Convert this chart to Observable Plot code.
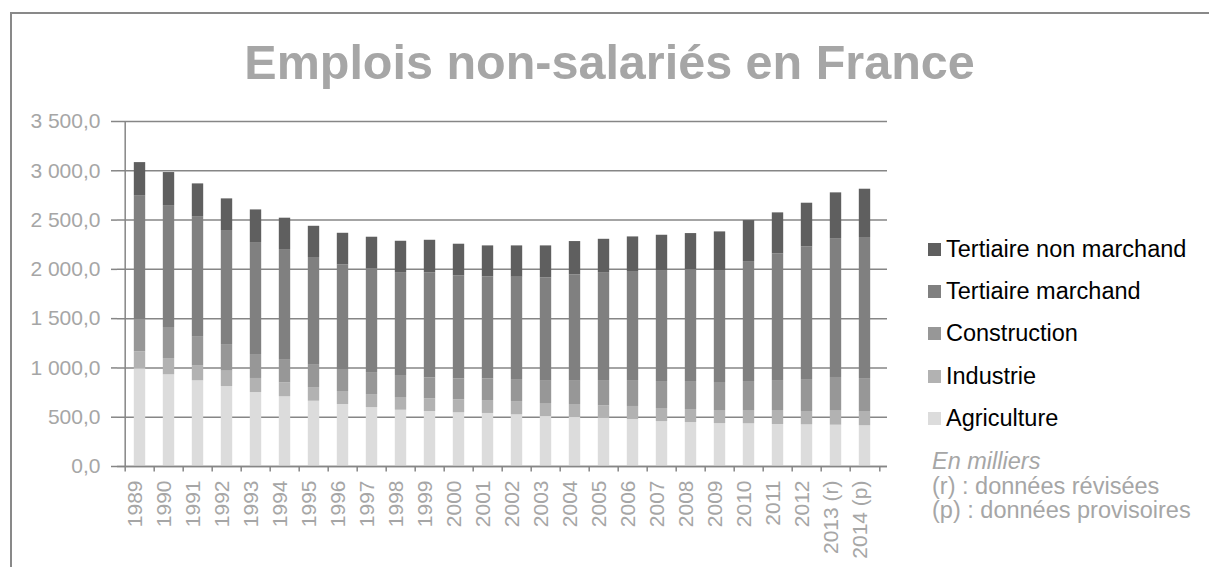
<!DOCTYPE html>
<html>
<head>
<meta charset="utf-8">
<script src="https://cdn.jsdelivr.net/npm/d3@7"></script>
<script src="https://cdn.jsdelivr.net/npm/@observablehq/plot@0.6"></script>
<style>
  html, body { margin: 0; padding: 0; background: #fff; overflow: hidden; }
  #wrap { width: 1209px; height: 567px; position: relative; overflow: hidden; font-family: "Liberation Sans", Arial, sans-serif; }
  #frame { position: absolute; left: 10px; top: 12px; width: 1400px; height: 800px; border-top: 2px solid #898989; border-left: 2px solid #898989; }
  #title { position: absolute; left: 10px; width: 1199px; top: 38px; text-align: center; font-size: 48.5px; font-weight: bold; color: #a6a6a6; line-height: 48px; white-space: nowrap; }
  #chart { position: absolute; left: 0; top: 100px; }
  #legend { position: absolute; left: 928px; top: 228px; }
  .row { position: relative; height: 42.4px; display: flex; align-items: center; }
  .sw { width: 13px; height: 13px; margin-right: 5px; }
  .lab { font-size: 23.5px; color: #000; white-space: nowrap; }
  #notes { position: absolute; left: 932px; top: 449px; font-size: 23.5px; color: #a6a6a6; line-height: 24.5px; white-space: nowrap; }
</style>
</head>
<body>
<div id="wrap">
<div id="frame"></div>
<div id="title">Emplois non-salariés en France</div>
<div id="chart"></div>
<div id="legend"></div>
<div id="notes"><i>En milliers</i><br>(r) : données révisées<br>(p) : données provisoires</div>
</div>
<script>
const years = ["1989","1990","1991","1992","1993","1994","1995","1996","1997","1998","1999","2000","2001","2002","2003","2004","2005","2006","2007","2008","2009","2010","2011","2012","2013 (r)","2014 (p)"];
const sectors = ["Agriculture","Industrie","Construction","Tertiaire marchand","Tertiaire non marchand"];
const colors = ["#dcdcdc","#b2b2b2","#979797","#808080","#5f5f5f"];
const agriculture = [991,930,869,811,750,707,662,629,598,571,558,545,538,524,507,497,487,477,456,446,436,433,426,423,419,413];
const industrie = [172,165,155,156,143,142,139,132,132,129,128,131,131,135,132,132,128,132,132,132,132,135,142,135,149,145];
const construction = [328,315,294,270,243,236,233,223,223,223,213,213,220,223,226,236,257,263,274,284,284,294,304,324,335,334];
const tertiaireMarchand = [1257,1237,1217,1157,1136,1116,1086,1061,1052,1044,1065,1045,1035,1038,1048,1079,1095,1106,1126,1136,1136,1217,1285,1346,1409,1431];
const tertiaireNonMarchand = [335,335,332,321,331,318,317,321,321,318,331,321,314,318,325,338,338,351,358,365,392,416,416,443,464,490];
const yTicks = [0,500,1000,1500,2000,2500,3000,3500];

const series = [agriculture, industrie, construction, tertiaireMarchand, tertiaireNonMarchand];
const data = [];
years.forEach((y, i) => sectors.forEach((s, k) => data.push({year: y, sector: s, value: series[k][i]})));

const W = 900, ML = 117, MR = 13;
const step = (W - ML - MR) / years.length;
const fmt = d3.formatLocale({decimal: ",", thousands: " ", grouping: [3], currency: ["", ""]}).format(",.1f");
const gray = "#868686", txt = "#a6a6a6";

const plot = Plot.plot({
  width: W, height: 460,
  marginLeft: ML, marginRight: MR, marginTop: 21, marginBottom: 94,
  style: {fontFamily: '"Liberation Sans", Arial, sans-serif', background: "transparent"},
  x: {domain: years, padding: 0, label: null},
  y: {domain: [0, 3500], label: null},
  color: {domain: sectors, range: colors},
  marks: [
    Plot.gridY(yTicks, {stroke: gray, strokeOpacity: 1, strokeWidth: 1.5}),
    Plot.barY(data, Plot.stackY({x: "year", y: "value", fill: "sector", order: sectors, insetLeft: (step - 12) / 2, insetRight: (step - 12) / 2})),
    Plot.ruleY([0], {stroke: gray, strokeWidth: 1.5}),
    Plot.ruleX([years[0]], {y1: 0, y2: 3500, dx: -step / 2, stroke: gray, strokeWidth: 1.5}),
    Plot.ruleX(years, {y1: 0, y2: -55, dx: -step / 2, stroke: gray, strokeWidth: 1.5}),
    Plot.ruleX([years[years.length - 1]], {y1: 0, y2: -55, dx: step / 2, stroke: gray, strokeWidth: 1.5}),
    Plot.axisY(yTicks, {tickSize: 6, tickPadding: 11, tickFormat: fmt, fontSize: 21, stroke: gray, fill: txt, strokeWidth: 1.5, label: null}),
    Plot.axisX({tickSize: 0, tickPadding: 14, tickRotate: -90, fontSize: 21, fill: txt, label: null, dx: -5})
  ]
});
document.getElementById("chart").appendChild(plot);

const legend = document.getElementById("legend");
[...sectors].reverse().forEach(s => {
  const row = document.createElement("div");
  row.className = "row";
  const sw = document.createElement("div");
  sw.className = "sw";
  sw.style.background = colors[sectors.indexOf(s)];
  const lab = document.createElement("span");
  lab.className = "lab";
  lab.textContent = s;
  row.appendChild(sw); row.appendChild(lab);
  legend.appendChild(row);
});
</script>
</body>
</html>
